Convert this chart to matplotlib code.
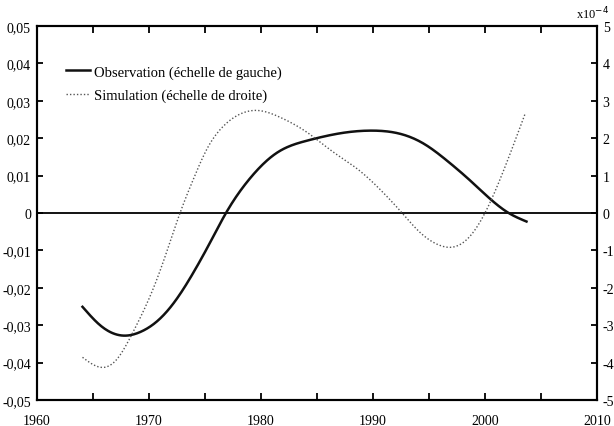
import numpy as np
import matplotlib
matplotlib.use('Agg')
import matplotlib.pyplot as plt
from matplotlib.ticker import FuncFormatter, MultipleLocator

plt.rcParams['font.family'] = ['Liberation Serif', 'DejaVu Serif']

# observation (left scale)
obs_years = [1964.1, 1965.7, 1968.0, 1969.2, 1971.0, 1972.5, 1974.0, 1975.5, 1976.9,
             1979.0, 1981.5, 1984.1, 1987.1, 1990.1, 1992.5, 1994.6, 1996.6,
             1998.7, 2002.1, 2003.7]
obs_vals = [-0.0251, -0.0301, -0.0328, -0.0319, -0.0283, -0.023, -0.0159, -0.0078, 0.0,
            0.0091, 0.0162, 0.0193, 0.0213, 0.0220, 0.0211, 0.0184, 0.0140,
            0.0086, 0.0, -0.0023]

# simulation (right scale, x1e-4)
sim_years = [1964.1, 1966.0, 1967.2, 1968.6, 1970.4, 1971.6, 1972.8, 1974.0, 1975.2,
             1976.7, 1978.2, 1979.7, 1981.7, 1984.1, 1986.5, 1988.6, 1990.6, 1992.6,
             1994.2, 1996.0, 1996.9, 1998.7, 2000.0, 2001.6, 2003.6]
sim_vals = [-3.86, -4.13, -3.9, -3.19, -2.03, -1.05, 0.0, 0.91, 1.71,
            2.33, 2.65, 2.74, 2.56, 2.16, 1.62, 1.18, 0.64, 0.0,
            -0.52, -0.87, -0.92, -0.61, 0.0, 1.09, 2.67]

def spline(x, y, n=400):
    # natural cubic spline through the read points
    x = np.asarray(x, float); y = np.asarray(y, float)
    m = len(x)
    h = np.diff(x)
    A = np.zeros((m, m)); b = np.zeros(m)
    A[0, 0] = A[-1, -1] = 1
    for i in range(1, m - 1):
        A[i, i - 1] = h[i - 1]
        A[i, i] = 2 * (h[i - 1] + h[i])
        A[i, i + 1] = h[i]
        b[i] = 6 * ((y[i + 1] - y[i]) / h[i] - (y[i] - y[i - 1]) / h[i - 1])
    M = np.linalg.solve(A, b)
    xs = np.linspace(x[0], x[-1], n)
    k = np.clip(np.searchsorted(x, xs) - 1, 0, m - 2)
    t1 = x[k + 1] - xs; t0 = xs - x[k]
    ys = (M[k] * t1 ** 3 + M[k + 1] * t0 ** 3) / (6 * h[k]) \
        + (y[k] / h[k] - M[k] * h[k] / 6) * t1 + (y[k + 1] / h[k] - M[k + 1] * h[k] / 6) * t0
    return xs, ys

fig = plt.figure(figsize=(6.14, 4.27), dpi=100)
ax = fig.add_axes([0.0595, 0.061, 0.913, 0.876])
ax2 = ax.twinx()

ox, oy = spline(obs_years, obs_vals)
sx, sy = spline(sim_years, sim_vals)

ax.axhline(0, color='black', lw=1.3)
l1, = ax.plot(ox, oy, color='#111111', lw=1.8, label='Observation (échelle de gauche)')
l2, = ax2.plot(sx, sy, color='#555555', lw=1.0, linestyle=(0, (1, 1.5)),
               label='Simulation (échelle de droite)')

ax.set_xlim(1960, 2010)
ax.set_ylim(-0.05, 0.05)
ax2.set_ylim(-5, 5)

ax.xaxis.set_major_locator(MultipleLocator(5))
ax.xaxis.set_major_formatter(FuncFormatter(lambda v, p: f"{int(round(v))}" if round(v) % 10 == 0 else ""))
ax.yaxis.set_major_locator(MultipleLocator(0.01))
ax.yaxis.set_major_formatter(FuncFormatter(lambda v, p: "0" if abs(v) < 1e-9 else f"{v:.2f}".replace('.', ',')))
ax2.yaxis.set_major_locator(MultipleLocator(1))
ax2.yaxis.set_major_formatter(FuncFormatter(lambda v, p: f"{int(round(v))}"))

ax.tick_params(axis='x', direction='in', top=True, length=5, width=1.3, labelsize=10, pad=10)
ax.tick_params(axis='y', direction='in', length=4, width=1.3, labelsize=10, pad=4)
ax2.tick_params(axis='y', direction='in', length=4, width=1.3, labelsize=10, pad=4)
for a in (ax, ax2):
    for s in a.spines.values():
        s.set_linewidth(1.5)

ax2.text(0.962, 1.012, "x10$^{-4}$", transform=ax2.transAxes, fontsize=9,
         ha='left', va='bottom')

ax.legend(handles=[l1, l2], loc='upper left', bbox_to_anchor=(0.03, 0.93), frameon=False,
          fontsize=10.5, handlelength=1.6, handletextpad=0.3, labelspacing=0.7)

fig.savefig('out.png', dpi=100)
